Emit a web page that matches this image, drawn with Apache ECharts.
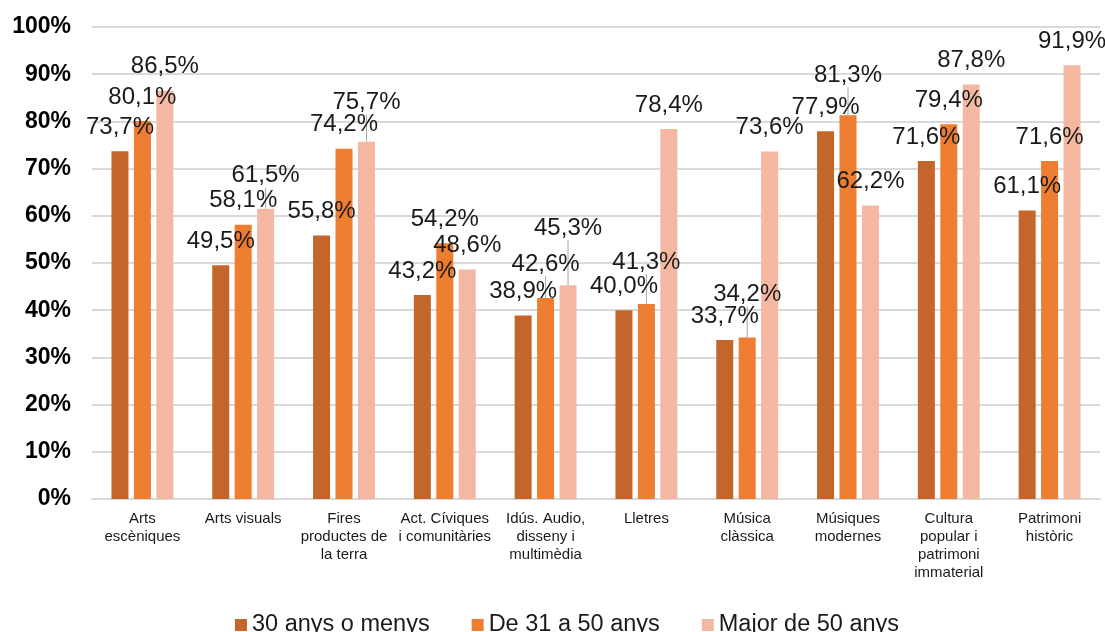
<!DOCTYPE html>
<html>
<head>
<meta charset="utf-8">
<script src="https://cdn.jsdelivr.net/npm/echarts@6/dist/echarts.min.js"></script>
<style>
html,body{margin:0;padding:0;background:#fff;}
#chart{width:1105px;height:632px;}
</style>
</head>
<body>
<div id="chart"></div>
<script>
var categories = ["Arts\nescèniques", "Arts visuals", "Fires\nproductes de\nla terra", "Act. Cíviques\ni comunitàries", "Idús. Audio,\ndisseny i\nmultimèdia", "Lletres", "Música\nclàssica", "Músiques\nmodernes", "Cultura\npopular i\npatrimoni\nimmaterial", "Patrimoni\nhistòric"];
var seriesNames = ["30 anys o menys", "De 31 a 50 anys", "Major de 50 anys"];
var young = [73.7, 49.5, 55.8, 43.2, 38.9, 40.0, 33.7, 77.9, 71.6, 61.1];
var middle = [80.1, 58.1, 74.2, 54.2, 42.6, 41.3, 34.2, 81.3, 79.4, 71.6];
var senior = [86.5, 61.5, 75.7, 48.6, 45.3, 78.4, 73.6, 62.2, 87.8, 91.9];
var yTicks = [0, 10, 20, 30, 40, 50, 60, 70, 80, 90, 100];

// label nudges (px, upward) as in the reference, where labels were moved
var labelNudge = [
  [0, 0, 0, 0, 0, 0, 0, 0, 0, 0],
  [0, 0, 0, 0, 10, 18, 19, 16, 0, 0],
  [0, 9, 15, 0, 33, 0, 0, 0, 0, 0]
];
var colors = ["#C4652B", "#ED7D31", "#F4B8A2"];

function fmt(v) { return v.toFixed(1).replace('.', ',') + '%'; }

function buildSeries(idx, values) {
  return {
    name: seriesNames[idx],
    type: 'bar',
    barWidth: 17,
    barGap: '32%',
    itemStyle: { color: colors[idx] },
    data: values.map(function (v, i) {
      return { value: v, labelLine: { show: labelNudge[idx][i] > 0 } };
    }),
    label: {
      show: true,
      position: 'top',
      distance: 12,
      formatter: function (p) { return fmt(p.value); },
      fontFamily: 'Liberation Sans, Arial, sans-serif',
      fontSize: 24,
      color: '#1a1a1a'
    },
    labelLine: { show: false, lineStyle: { color: '#a6a6a6', width: 1 } },
    labelLayout: function (p) {
      return { dy: -labelNudge[idx][p.dataIndex] };
    }
  };
}

var chart = echarts.init(document.getElementById('chart'));
chart.setOption({
  animation: false,
  backgroundColor: '#fff',
  grid: { left: 92, right: 5, top: 27, bottom: 133, containLabel: false },
  legend: {
    data: seriesNames,
    left: 230,
    top: 608,
    itemWidth: 12,
    itemHeight: 12,
    itemGap: 42,
    icon: 'rect',
    textStyle: { fontFamily: 'Liberation Sans, Arial, sans-serif', fontSize: 23.5, color: '#1a1a1a', padding: [0, 0, 0, 0] }
  },
  xAxis: {
    type: 'category',
    data: categories,
    axisTick: { show: false },
    axisLine: { lineStyle: { color: '#d9d9d9', width: 2 } },
    axisLabel: {
      interval: 0,
      margin: 11,
      fontFamily: 'Liberation Sans, Arial, sans-serif',
      fontSize: 15,
      lineHeight: 18,
      color: '#1a1a1a',
      align: 'center'
    }
  },
  yAxis: {
    type: 'value',
    min: yTicks[0],
    max: yTicks[yTicks.length - 1],
    interval: 10,
    axisLine: { show: false },
    axisTick: { show: false },
    splitLine: { lineStyle: { color: '#d9d9d9', width: 2 } },
    axisLabel: {
      margin: 21,
      formatter: '{value}%',
      fontFamily: 'Liberation Sans, Arial, sans-serif',
      fontWeight: 'bold',
      fontSize: 23,
      color: '#000'
    }
  },
  series: [buildSeries(0, young), buildSeries(1, middle), buildSeries(2, senior)]
});
</script>
</body>
</html>
